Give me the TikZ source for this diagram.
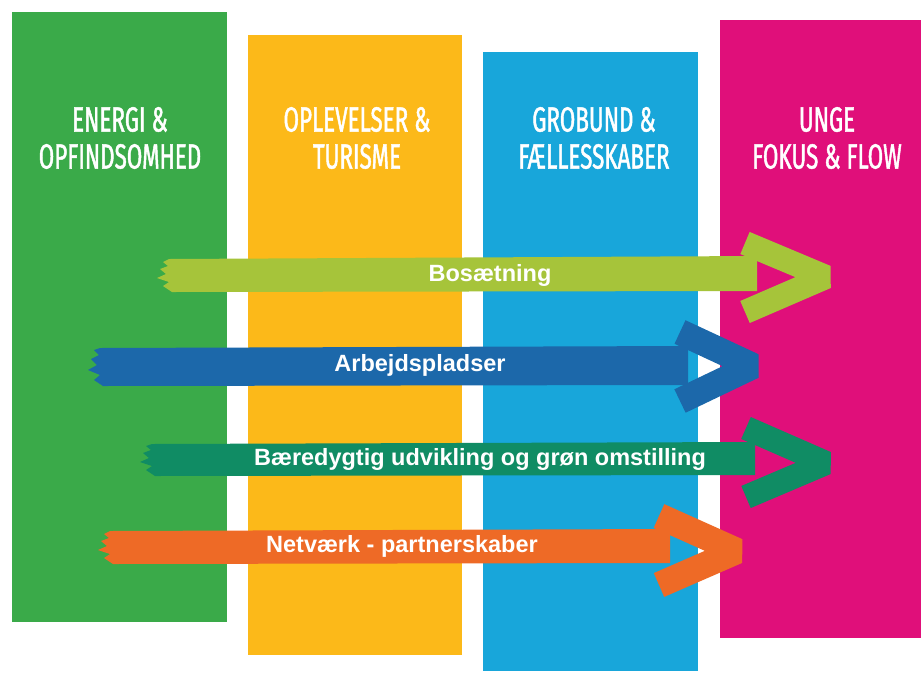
\documentclass[tikz,border=0pt]{standalone}
\usepackage{fontspec}
\setmainfont{Liberation Sans}
\newfontfamily\headfont[FakeStretch=0.64, FakeBold=1.3]{Fira Sans}
\definecolor{colgreen}{RGB}{58,170,73}
\definecolor{colyellow}{RGB}{252,185,25}
\definecolor{colblue}{RGB}{24,166,218}
\definecolor{colmagenta}{RGB}{224,15,122}
\definecolor{arrlime}{RGB}{166,196,58}
\definecolor{arrblue}{RGB}{28,104,170}
\definecolor{arrteal}{RGB}{16,140,100}
\definecolor{arrorange}{RGB}{238,106,38}

\begin{document}
\begin{tikzpicture}[x=1pt,y=-1pt,
    heading/.style={text=white, font=\headfont\fontsize{35}{37}\selectfont, align=center, inner sep=0pt},
    arrowtext/.style={text=white, font=\bfseries\fontsize{23.5}{26}\selectfont, inner sep=0pt},
    chevron/.style={draw=#1, line width=24pt, line join=bevel}]
    \useasboundingbox (0,0) rectangle (921,673);
    \fill[white] (0,0) rectangle (921,673);
    % columns
    \fill[colgreen] (12,12) rectangle (227,622);
    \fill[colyellow] (248,35) rectangle (462,655);
    \fill[colblue] (483,52) rectangle (698,671);
    \fill[colmagenta] (720,20) rectangle (921,638);
    \node[heading] (energi) at (120,138) {ENERGI \&\\OPFINDSOMHED};
    \node[heading] (oplevelser) at (357,138) {OPLEVELSER \&\\TURISME};
    \node[heading] (grobund) at (594,138) {GROBUND \&\\FÆLLESSKABER};
    \node[heading] (unge) at (827,138) {UNGE\\FOKUS \& FLOW};
    % Bosaetning
    \fill[arrlime] (169,259) -- (757,256) -- (757,291) -- (172,292) -- (163,286) -- (169,282) -- (157,278)
        -- (166,274) -- (160,269) -- (168,266) -- (163,262) -- cycle;
    \draw[chevron=arrlime] (745,243) -- (826,277) -- (745,312);
    \node[arrowtext] (bosaetning) at (490,275) {Bosætning};
    % Arbejdspladser
    \fill[arrblue] (100,348) -- (688,346) -- (688,385) -- (103,386) -- (94,380) -- (100,375) -- (88,370)
        -- (97,365) -- (91,359) -- (99,355) -- (94,350) -- cycle;
    \draw[chevron=arrblue, line width=26pt] (680,332) -- (753,366) -- (680,401);
    \node[arrowtext] (arbejde) at (420,365) {Arbejdspladser};
    % Baeredygtig udvikling
    \fill[arrteal] (152,444) -- (755,442) -- (755,475) -- (155,476) -- (146,470) -- (152,466) -- (140,462)
        -- (149,458) -- (143,453) -- (151,450) -- (146,446) -- cycle;
    \draw[chevron=arrteal] (746,428) -- (826,463) -- (746,497);
    \node[arrowtext] (udvikling) at (480,459) {Bæredygtig udvikling og grøn omstilling};
    % Netvaerk
    \fill[arrorange] (110,531) -- (670,529) -- (670,563) -- (113,564) -- (104,558) -- (110,554) -- (98,550)
        -- (107,546) -- (101,541) -- (109,538) -- (104,534) -- cycle;
    \draw[chevron=arrorange, line width=26pt] (659,516) -- (737,551) -- (659,585);
    \node[arrowtext] (netvaerk) at (402,546) {Netværk - partnerskaber};
\end{tikzpicture}
\end{document}
